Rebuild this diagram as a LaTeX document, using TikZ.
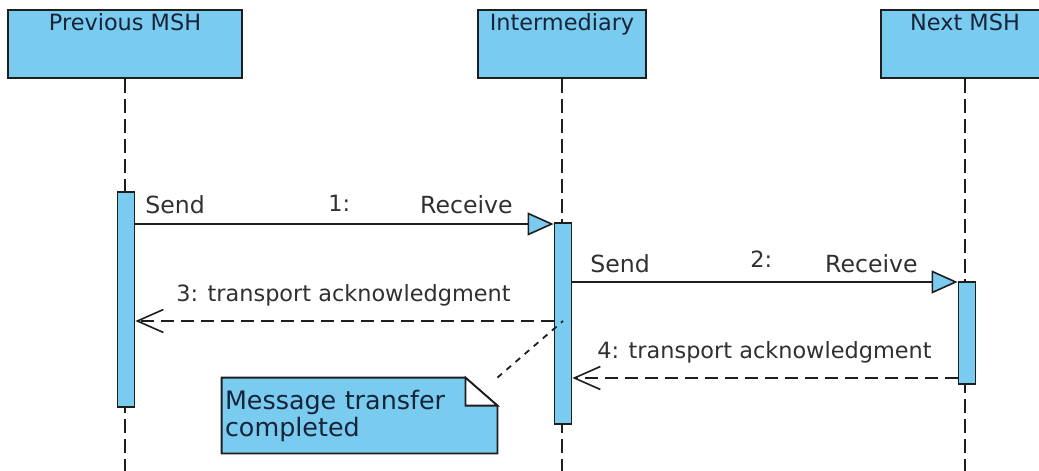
\documentclass[tikz,border=0pt]{standalone}
\usepackage{fontspec}
\setmainfont{DejaVu Sans}
\usetikzlibrary{arrows.meta,backgrounds}
\definecolor{umlblue}{RGB}{122,203,240}
\definecolor{headtext}{RGB}{22,36,56}
\definecolor{msgtext}{RGB}{48,48,48}
\definecolor{umlline}{RGB}{30,30,30}

\tikzset{
  head/.style={draw=umlline, fill=umlblue, line width=1pt, inner xsep=0pt, inner ysep=0pt,
    text height=10.5pt, text depth=23.5pt, text=headtext, font=\fontsize{11.2}{13}\selectfont},
  bar/.style={draw=umlline, fill=umlblue, line width=0.9pt, minimum width=8.5pt, inner sep=0pt},
  lifeline/.style={umlline, line width=0.9pt, dash pattern=on 7pt off 3pt},
  call/.style={umlline, line width=0.8pt, -{Triangle[length=13pt,width=11.5pt,fill=umlblue]}},
  reply/.style={umlline, line width=0.8pt, dash pattern=on 6.5pt off 3.5pt,
    -{Straight Barb[length=13pt,width=11.5pt]}},
  notelink/.style={umlline, line width=0.9pt, dash pattern=on 3pt off 3pt},
  msglabel/.style={text=msgtext, inner sep=0pt, font=\fontsize{11.2}{13}\selectfont},
  endlabel/.style={text=msgtext, inner sep=0pt, font=\fontsize{11.8}{13}\selectfont},
  notebox/.style={minimum width=137.5pt, minimum height=37.5pt, inner xsep=1.5pt, inner ysep=0pt,
    text width=134.5pt, align=left, text=headtext, font=\fontsize{12.7}{13.5}\selectfont}
}

\begin{document}
\begin{tikzpicture}[x=0.5pt, y=-0.5pt]
  \path[use as bounding box] (0,0) rectangle (1039,471);
  \clip (0,0) rectangle (1039,471);

  % lifeline heads
  \node[head, minimum width=117pt] (prev) at (125,44) {Previous MSH};
  \node[head, minimum width=84pt] (inter) at (562,44) {Intermediary};
  \node[head, minimum width=84pt] (next) at (965,44) {Next MSH};

  \coordinate (bottom) at (0,471);
  \foreach \n in {prev,inter,next}
    \draw[lifeline] (\n.south) -- (\n.south |- bottom);

  % activations
  \node[bar, minimum height=107.5pt] (prevbar) at (126,299.5) {};
  \node[bar, minimum height=100.5pt] (interbar) at (563,323.5) {};
  \node[bar, minimum height=51pt] (nextbar) at (967,333) {};

  % message rows
  \coordinate (m1) at (0,224);
  \coordinate (m2) at (0,282);
  \coordinate (m3) at (0,321);
  \coordinate (m4) at (0,378);

  \draw[call] (prevbar.east |- m1) -- (interbar.west |- m1);
  \draw[call] (interbar.east |- m2) -- (nextbar.west |- m2);
  \draw[reply] (interbar.west |- m3) -- (prevbar.east |- m3);
  \draw[reply] (nextbar.west |- m4) -- (interbar.east |- m4);

  \node[endlabel, anchor=base west] (send1) at (145,213) {Send};
  \node[msglabel, anchor=base west] (num1) at (328,211) {1:};
  \node[endlabel, anchor=base east] (recv1) at (513,213) {Receive};
  \node[endlabel, anchor=base west] (send2) at (590,272) {Send};
  \node[msglabel, anchor=base west] (num2) at (750,267) {2:};
  \node[endlabel, anchor=base east] (recv2) at (918,272) {Receive};
  \node[msglabel, anchor=base west] (ack3) at (176,301) {3: transport acknowledgment};
  \node[msglabel, anchor=base west] (ack4) at (597,358) {4: transport acknowledgment};

  % note
  \node[notebox] (note) at (359.5,415.5) {Message transfer\\completed};
  \begin{scope}[on background layer]
    \filldraw[draw=umlline, fill=umlblue, line width=0.9pt]
      (note.north west) -- ([xshift=-16pt]note.north east) -- ([yshift=-14pt]note.north east)
      -- (note.south east) -- (note.south west) -- cycle;
    \filldraw[draw=umlline, fill=white, line width=0.9pt]
      ([xshift=-16pt]note.north east) -- ++(0,-14pt) -- ([yshift=-14pt]note.north east) -- cycle;
  \end{scope}
  \draw[notelink] (note.north east) -- (interbar.center |- m3);
\end{tikzpicture}
\end{document}
